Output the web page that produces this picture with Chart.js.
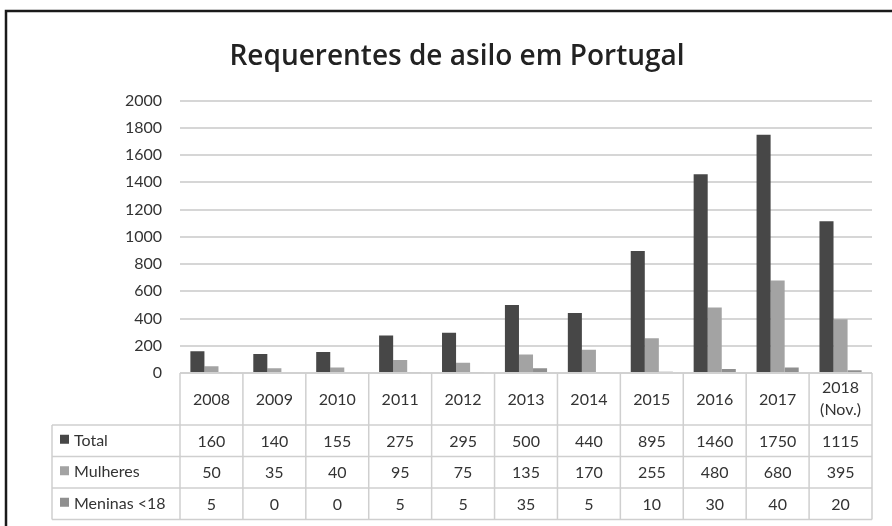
<!DOCTYPE html>
<html>
<head>
<meta charset="utf-8">
<title>Requerentes de asilo em Portugal</title>
<script src="https://cdn.jsdelivr.net/npm/chart.js@4.4.1/dist/chart.umd.min.js"></script>
<style>
  html, body { margin: 0; padding: 0; background: #fff; }
  #wrap { width: 892px; height: 526px; position: relative; }
</style>
</head>
<body>
<div id="wrap"><canvas id="asylumChart" width="892" height="526"></canvas></div>
<script>
const years = ["2008", "2009", "2010", "2011", "2012", "2013", "2014", "2015", "2016", "2017", ["2018", "(Nov.)"]];
const total = [160, 140, 155, 275, 295, 500, 440, 895, 1460, 1750, 1115];
const mulheres = [50, 35, 40, 95, 75, 135, 170, 255, 480, 680, 395];
const meninas = [5, 0, 0, 5, 5, 35, 5, 10, 30, 40, 20];
const yTicks = [0, 200, 400, 600, 800, 1000, 1200, 1400, 1600, 1800, 2000];

const FONT = "Lato, 'Open Sans', sans-serif";
const TEXT = "#333";
const LINE = "#cfcfcf";

// data table under the plot, plus the frame
const dataTable = {
  id: "dataTable",
  afterDraw(chart) {
    const { ctx, chartArea } = chart;
    const x = chart.scales.x;
    const step = x.getPixelForValue(1) - x.getPixelForValue(0);
    const left = chartArea.left;
    const right = chartArea.right;
    const top = chartArea.bottom;
    const headerBottom = top + 52;
    const rowH = 31.5;
    const legendLeft = 52;
    const rows = chart.data.datasets;
    const tableBottom = headerBottom + rowH * rows.length;

    ctx.save();
    ctx.strokeStyle = LINE;
    ctx.lineWidth = 1.5;

    // header row borders
    ctx.beginPath();
    ctx.moveTo(left, top); ctx.lineTo(right, top);
    for (let i = 0; i <= years.length; i++) {
      const cx = left + step * i;
      ctx.moveTo(cx, top); ctx.lineTo(cx, tableBottom);
    }
    // data row borders
    for (let r = 0; r <= rows.length; r++) {
      const ry = headerBottom + rowH * r;
      ctx.moveTo(legendLeft, ry); ctx.lineTo(right, ry);
    }
    ctx.moveTo(legendLeft, headerBottom); ctx.lineTo(legendLeft, tableBottom);
    ctx.stroke();

    ctx.fillStyle = TEXT;
    ctx.font = "16px " + FONT;
    ctx.textAlign = "center";
    ctx.textBaseline = "middle";
    years.forEach((label, i) => {
      const cx = x.getPixelForValue(i);
      if (Array.isArray(label)) {
        ctx.fillText(label[0], cx, top + 15);
        ctx.fillText(label[1], cx, top + 37);
      } else {
        ctx.fillText(label, cx, top + 27);
      }
    });

    rows.forEach((ds, r) => {
      const cy = headerBottom + rowH * r + rowH / 2;
      ctx.fillStyle = ds.backgroundColor;
      ctx.fillRect(legendLeft + 8, cy - 6, 9, 9);
      ctx.fillStyle = TEXT;
      ctx.textAlign = "left";
      ctx.fillText(ds.label, legendLeft + 22, cy);
      ctx.textAlign = "center";
      ds.data.forEach((v, i) => {
        ctx.fillText(String(v), x.getPixelForValue(i), cy + 1);
      });
    });

    // frame
    ctx.strokeStyle = "#1a1a1a";
    ctx.lineWidth = 2.5;
    ctx.beginPath();
    ctx.moveTo(6, chart.height);
    ctx.lineTo(6, 11);
    ctx.lineTo(chart.width, 11);
    ctx.stroke();
    ctx.restore();
  }
};

new Chart(document.getElementById("asylumChart"), {
  type: "bar",
  data: {
    labels: years,
    datasets: [
      { label: "Total", data: total, backgroundColor: "#474747" },
      { label: "Mulheres", data: mulheres, backgroundColor: "#a3a3a3" },
      { label: "Meninas <18", data: meninas, backgroundColor: "#8f8f8f" }
    ]
  },
  options: {
    responsive: false,
    animation: false,
    layout: { padding: { left: 42, right: 20, bottom: 153, top: 0 } },
    datasets: { bar: { categoryPercentage: 0.67, barPercentage: 1 } },
    plugins: {
      legend: { display: false },
      tooltip: { enabled: false },
      title: {
        display: true,
        text: "Requerentes de asilo em Portugal",
        color: "#222",
        font: { family: "'Open Sans', sans-serif", size: 28, weight: "600" },
        padding: { top: 40, bottom: 27 }
      }
    },
    scales: {
      x: { display: false },
      y: {
        min: 0,
        max: 2000,
        afterBuildTicks(scale) { scale.ticks = yTicks.map(v => ({ value: v })); },
        afterFit(scale) { scale.width = 138; },
        border: { display: false },
        grid: { color: "#d6d6d6", lineWidth: 2, drawTicks: false },
        ticks: {
          color: TEXT,
          padding: 18,
          font: { family: FONT, size: 16 },
          callback: v => String(v)
        }
      }
    }
  },
  plugins: [dataTable]
});
</script>
</body>
</html>
